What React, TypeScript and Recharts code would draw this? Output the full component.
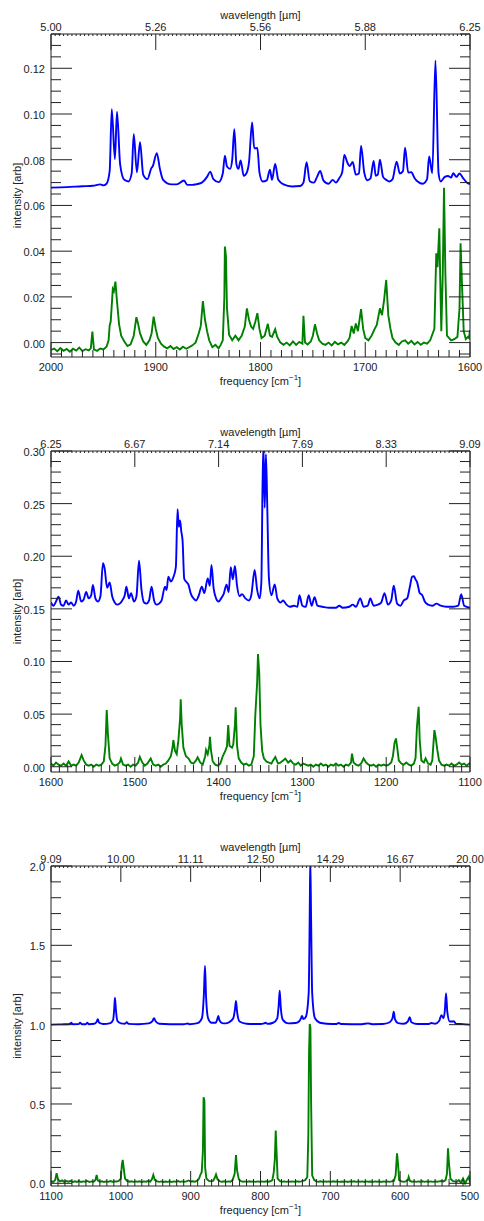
import { Line, LineChart, XAxis, YAxis } from 'recharts';

type Pt = [number, number];

const FONT = '"Liberation Sans", Arial, Helvetica, sans-serif';
const INK = '#222';
const BLUE = '#0000ff';
const GREEN = '#008000';

// ---- panel 1: 2000-1600 cm-1 ----
const p1FreqTicks = [2000, 1900, 1800, 1700, 1600];
const p1WaveLabels = ['5.00', '5.26', '5.56', '5.88', '6.25'];
const p1YLabels = [0, 0.02, 0.04, 0.06, 0.08, 0.1, 0.12];

const p1Blue: Pt[] = [
  [2000, 0.0678], [1985, 0.068], [1970, 0.0684], [1960, 0.0686], [1953, 0.0692], [1950, 0.0688],
  [1947, 0.0695], [1944, 0.075], [1942, 0.1021], [1939, 0.0803], [1937, 0.101], [1934, 0.078],
  [1930, 0.0712], [1926, 0.0705], [1923, 0.074], [1921, 0.0912], [1918, 0.0745], [1915, 0.0877],
  [1912, 0.0735], [1908, 0.0715], [1904, 0.0765], [1903, 0.077], [1899, 0.0829], [1896, 0.0759],
  [1893, 0.0712], [1885, 0.0692], [1880, 0.0692], [1873, 0.0709], [1870, 0.069], [1865, 0.069],
  [1862, 0.0692], [1856, 0.07], [1851, 0.0725], [1848, 0.0748], [1845, 0.0715], [1840, 0.0702],
  [1836, 0.074], [1834, 0.0818], [1832, 0.077], [1829, 0.076], [1827, 0.08], [1825, 0.0934],
  [1823, 0.078], [1821, 0.076], [1819, 0.0797], [1816, 0.073], [1813, 0.0745], [1811, 0.0788],
  [1808, 0.0963], [1806, 0.085], [1803, 0.0851], [1801, 0.0745], [1798, 0.0705], [1794, 0.071],
  [1791, 0.0756], [1789, 0.0712], [1786, 0.0781], [1783, 0.0712], [1778, 0.0692], [1770, 0.0683],
  [1762, 0.0685], [1759, 0.07], [1756, 0.0789], [1753, 0.0706], [1749, 0.07], [1746, 0.0725],
  [1743, 0.0751], [1740, 0.071], [1735, 0.0695], [1731, 0.0712], [1728, 0.07], [1725, 0.0718],
  [1722, 0.0745], [1720, 0.0821], [1717, 0.0787], [1715, 0.0772], [1712, 0.079], [1709, 0.0735],
  [1706, 0.074], [1704, 0.0861], [1701, 0.0745], [1698, 0.071], [1695, 0.0718], [1692, 0.0795],
  [1690, 0.073], [1688, 0.0735], [1686, 0.08], [1683, 0.0725], [1680, 0.0712], [1677, 0.0705],
  [1674, 0.0714], [1670, 0.0791], [1667, 0.074], [1664, 0.075], [1662, 0.0853], [1659, 0.0744],
  [1656, 0.0745], [1653, 0.072], [1650, 0.0705], [1645, 0.0695], [1641, 0.0715], [1639, 0.0814],
  [1636, 0.0741], [1633, 0.1234], [1630, 0.074], [1628, 0.0705], [1624, 0.0725], [1621, 0.0729],
  [1618, 0.0722], [1616, 0.0741], [1613, 0.0725], [1610, 0.074], [1607, 0.0722], [1603, 0.07],
  [1600, 0.0693],
];

const p1Green: Pt[] = [
  [2000, -0.0032], [1997, -0.0026], [1994, -0.0038], [1991, -0.0024], [1988, -0.0036], [1985, -0.0028],
  [1982, -0.004], [1979, -0.0027], [1976, -0.0035], [1973, -0.0022], [1970, -0.0037], [1967, -0.0029],
  [1964, -0.0034], [1962, -0.0025], [1960.5, 0.0048], [1959, -0.003], [1956, -0.0036], [1953, -0.0026],
  [1950, -0.003], [1947, -0.0018], [1945, 0.001], [1944, 0.0075], [1943, 0.0092], [1941, 0.0234],
  [1940, 0.0225], [1938.5, 0.0267], [1937, 0.018], [1935, 0.008], [1933, 0.003], [1930, 0.0005],
  [1927, -0.0015], [1924, -0.0008], [1921, 0.003], [1920, 0.0062], [1918.5, 0.0111], [1917, 0.0085],
  [1915, 0.004], [1912, 0.0005], [1909, -0.001], [1906, 0.001], [1904, 0.004], [1902, 0.0114],
  [1900, 0.006], [1898, 0.002], [1895, -0.0005], [1892, -0.0018], [1889, -0.0025], [1886, -0.0015],
  [1883, -0.0028], [1880, -0.002], [1877, -0.003], [1874, -0.0018], [1871, -0.0027], [1868, -0.002],
  [1865, -0.0012], [1862, 0], [1859, 0.004], [1857, 0.0073], [1855, 0.0182], [1853, 0.01],
  [1851, 0.005], [1849, 0.001], [1846, -0.002], [1843, -0.001], [1840, -0.0025], [1838, -0.001],
  [1836, 0.001], [1834.5, 0.02], [1834, 0.042], [1833, 0.038], [1832, 0.015], [1830, 0.0035],
  [1827, 0.001], [1824, 0.003], [1821, 0.001], [1818, 0.003], [1815, 0.007], [1813, 0.015],
  [1811, 0.01], [1809, 0.007], [1807, 0.006], [1805, 0.009], [1803, 0.0129], [1801, 0.006],
  [1799, 0.002], [1796, 0.003], [1793, 0.0082], [1791, 0.003], [1789, 0.0025], [1786, 0.0059],
  [1784, 0.0025], [1781, 0], [1778, -0.001], [1775, 0], [1772, -0.0012], [1769, 0.0005],
  [1766, -0.001], [1763, 0.0003], [1760, -0.0005], [1759, 0.0117], [1757.5, 0], [1755, -0.0008],
  [1752, 0.0005], [1750, 0.003], [1748, 0.008], [1746, 0.004], [1744, 0.001], [1741, -0.0005],
  [1738, -0.001], [1735, 0], [1732, -0.0012], [1729, 0.0003], [1726, -0.0008], [1723, 0],
  [1720, -0.001], [1717, 0.0005], [1715, 0.002], [1713, 0.0073], [1711, 0.004], [1709, 0.0084],
  [1707, 0.005], [1704, 0.0146], [1702, 0.006], [1700, 0.002], [1697, 0.001], [1694, 0.003],
  [1691, 0.006], [1689, 0.0077], [1686, 0.015], [1684, 0.012], [1682, 0.0187], [1680, 0.0274],
  [1678, 0.012], [1676, 0.0062], [1674, 0.002], [1671, 0], [1668, -0.001], [1665, 0.0005],
  [1662, 0.001], [1659, -0.0005], [1656, 0.0008], [1653, -0.0008], [1650, 0.0003], [1647, -0.001],
  [1644, 0], [1641, -0.0005], [1638, 0.001], [1634, 0.006], [1632.2, 0.0391], [1631, 0.033],
  [1629.3, 0.05], [1628.5, 0.03], [1627.4, 0.005], [1626, 0.03], [1624.8, 0.0677], [1623.5, 0.03],
  [1622, 0.003], [1618, 0.001], [1615, 0.0015], [1612, 0.0025], [1610, 0.015], [1609, 0.0435],
  [1608, 0.03], [1606, 0.005], [1604, 0.0015], [1602, 0.0025], [1601, 0.002], [1600, 0.0055],
];

// ---- panel 2: 1600-1100 cm-1 ----
const p2FreqTicks = [1600, 1500, 1400, 1300, 1200, 1100];
const p2WaveLabels = ['6.25', '6.67', '7.14', '7.69', '8.33', '9.09'];
const p2YLabels = [0, 0.05, 0.1, 0.15, 0.2, 0.25, 0.3];

const p2Blue: Pt[] = [
  [1600, 0.156], [1597, 0.153], [1594, 0.157], [1591, 0.1616], [1588, 0.154], [1585, 0.153],
  [1582, 0.158], [1579, 0.154], [1576, 0.156], [1573, 0.153], [1570, 0.157], [1567.5, 0.1673],
  [1564, 0.157], [1561, 0.159], [1558, 0.166], [1555, 0.16], [1552, 0.163], [1550, 0.1727],
  [1547, 0.16], [1544, 0.157], [1541, 0.162], [1538, 0.1933], [1536, 0.1885], [1533, 0.17],
  [1530, 0.175], [1527, 0.162], [1524, 0.156], [1521, 0.154], [1518, 0.155], [1515, 0.158],
  [1512, 0.163], [1510, 0.1711], [1507, 0.16], [1504.5, 0.165], [1501, 0.157], [1498, 0.162],
  [1495, 0.1958], [1492, 0.168], [1489, 0.156], [1486, 0.155], [1483, 0.158], [1480, 0.171],
  [1477, 0.158], [1474, 0.154], [1471, 0.155], [1468, 0.158], [1464, 0.171], [1462, 0.168],
  [1460, 0.1806], [1457, 0.176], [1454, 0.18], [1451, 0.19], [1449, 0.2447], [1447.5, 0.228],
  [1446, 0.234], [1444.5, 0.2234], [1443, 0.215], [1441, 0.1786], [1439, 0.176], [1436, 0.173],
  [1433, 0.164], [1430, 0.16], [1427, 0.158], [1424, 0.162], [1420, 0.171], [1417, 0.165],
  [1413, 0.179], [1410.5, 0.172], [1408.5, 0.1917], [1406, 0.17], [1403, 0.16], [1400, 0.157],
  [1397, 0.16], [1394, 0.164], [1390.5, 0.173], [1388, 0.166], [1385.5, 0.1896], [1383, 0.178],
  [1380.5, 0.1908], [1378, 0.172], [1375, 0.162], [1372, 0.164], [1368, 0.16], [1364, 0.158],
  [1361, 0.163], [1357, 0.187], [1354, 0.168], [1351, 0.16], [1349, 0.175], [1347.5, 0.27],
  [1346.5, 0.305], [1345, 0.246], [1343.5, 0.297], [1342, 0.25], [1340, 0.18], [1337, 0.163],
  [1333, 0.1733], [1330, 0.16], [1326, 0.156], [1323, 0.158], [1319, 0.154], [1315, 0.152],
  [1310, 0.153], [1306, 0.152], [1303.5, 0.163], [1300, 0.153], [1296, 0.152], [1292.5, 0.163],
  [1289, 0.153], [1285.5, 0.161], [1282, 0.153], [1276, 0.152], [1268, 0.151], [1260, 0.151],
  [1256, 0.153], [1252, 0.151], [1244, 0.152], [1240, 0.154], [1236, 0.152], [1231, 0.16],
  [1227, 0.152], [1222, 0.153], [1219, 0.16], [1215, 0.153], [1210, 0.154], [1206, 0.156],
  [1202, 0.165], [1198, 0.154], [1194, 0.158], [1191, 0.172], [1187, 0.155], [1183, 0.153],
  [1179, 0.158], [1175, 0.16], [1172, 0.17], [1169, 0.1806], [1167, 0.181], [1165, 0.178],
  [1163, 0.175], [1160, 0.165], [1157, 0.163], [1154, 0.157], [1150, 0.154], [1145, 0.153],
  [1140, 0.155], [1135, 0.153], [1128, 0.152], [1120, 0.152], [1114, 0.153], [1110.5, 0.164],
  [1107, 0.153], [1100, 0.151],
];

const p2Green: Pt[] = [
  [1600, 0.003], [1597, 0.001], [1594, 0.004], [1591, 0.002], [1588, 0.001], [1585, 0.003],
  [1582, 0.001], [1579, 0.005], [1576, 0.001], [1573, 0.002], [1570, 0.001], [1567, 0.004],
  [1565, 0.008], [1563.5, 0.011], [1561, 0.006], [1558, 0.002], [1555, 0.001], [1552, 0.002],
  [1549, 0], [1546, 0.002], [1543, 0.001], [1540, 0.002], [1537, 0.005], [1535, 0.02],
  [1533.5, 0.0539], [1532, 0.03], [1530, 0.008], [1527, 0.003], [1524, 0.001], [1521, 0.002],
  [1518, 0.004], [1516.5, 0.0078], [1514, 0.002], [1511, 0.001], [1508, 0.002], [1505, 0],
  [1502, 0.002], [1499, 0.001], [1496, 0.004], [1494, 0.0093], [1491, 0.004], [1488, 0.001],
  [1485, 0.003], [1481, 0.0078], [1478, 0.002], [1475, 0.001], [1472, 0.002], [1469, 0],
  [1466, 0.002], [1463, 0.003], [1460, 0.006], [1457, 0.01], [1455, 0.018], [1454, 0.0254],
  [1452, 0.015], [1450, 0.012], [1448, 0.025], [1446, 0.045], [1445.2, 0.064], [1444, 0.04],
  [1442, 0.018], [1439, 0.01], [1436, 0.008], [1433, 0.004], [1430, 0.003], [1427, 0.006],
  [1425, 0.009], [1422, 0.004], [1419, 0.002], [1416, 0.01], [1415, 0.016], [1413, 0.012],
  [1411, 0.02], [1410.3, 0.0285], [1409, 0.015], [1407, 0.005], [1404, 0.002], [1401, 0.001],
  [1398, 0.003], [1395, 0.01], [1392, 0.015], [1390, 0.0193], [1388.5, 0.0396], [1387, 0.02],
  [1384, 0.018], [1382.5, 0.021], [1380.5, 0.04], [1379.6, 0.0565], [1378, 0.02], [1376, 0.008],
  [1373, 0.004], [1370, 0.002], [1367, 0.003], [1364, 0.001], [1361, 0.002], [1358, 0.01],
  [1356.2, 0.049], [1354, 0.08], [1353, 0.1071], [1351.5, 0.089], [1350, 0.04], [1348, 0.015],
  [1346, 0.008], [1343, 0.005], [1340, 0.004], [1337, 0.003], [1335, 0.006], [1332.3, 0.0093],
  [1329, 0.003], [1326, 0.004], [1323, 0.006], [1320.4, 0.0078], [1317, 0.004], [1314, 0.006],
  [1311, 0.003], [1308, 0.002], [1305, 0.004], [1302, 0.001], [1299, 0.003], [1296, 0.002],
  [1293, 0.001], [1290, 0.002], [1287, 0], [1284, 0.002], [1281, 0.001], [1278, 0.003],
  [1275, 0.001], [1272, 0.002], [1269, 0], [1266, 0.002], [1263, 0.001], [1260, 0.003],
  [1257, 0.001], [1254, 0.002], [1251, 0], [1248, 0.002], [1245, 0.001], [1242, 0.004],
  [1240.8, 0.0124], [1239, 0.004], [1236, 0.002], [1233, 0.001], [1230, 0.003], [1227, 0.0078],
  [1224, 0.004], [1221, 0.002], [1218, 0.001], [1215, 0.002], [1212, 0], [1209, 0.002],
  [1206, 0.001], [1203, 0.002], [1200, 0.001], [1197, 0.002], [1194, 0.004], [1192, 0.01],
  [1190, 0.0228], [1188.3, 0.0269], [1186.5, 0.016], [1185, 0.006], [1182, 0.003], [1179, 0.002],
  [1176, 0.004], [1173, 0.002], [1170, 0.001], [1167, 0.003], [1165, 0.008], [1163.3, 0.038],
  [1161.3, 0.057], [1160, 0.025], [1158, 0.006], [1155, 0.004], [1153, 0.008], [1150, 0.003],
  [1147, 0.002], [1145, 0.006], [1142.5, 0.0348], [1141, 0.028], [1139, 0.016], [1137, 0.006],
  [1134, 0.002], [1131, 0.001], [1128, 0.002], [1125, 0.001], [1122, 0.003], [1119, 0.001],
  [1116, 0.002], [1113, 0.004], [1110, 0.002], [1107, 0.003], [1104, 0.001], [1101, 0.003],
  [1100, 0.002],
];

// ---- panel 3: 1100-500 cm-1 ----
const p3FreqTicks = [1100, 1000, 900, 800, 700, 600, 500];
const p3WaveLabels = ['9.09', '10.00', '11.11', '12.50', '14.29', '16.67', '20.00'];
const p3YLabels = [0, 0.5, 1, 1.5, 2];

const p3Blue: Pt[] = [
  [1100, 1.0], [1085, 1.002], [1075, 1.003], [1072, 1.008], [1071, 1.012], [1069, 1.003],
  [1060, 1.004], [1058.5, 1.012], [1056, 1.003], [1050, 1.003], [1048, 1.012], [1046, 1.003],
  [1038, 1.006], [1035, 1.015], [1033, 1.034], [1031, 1.012], [1025, 1.004], [1015, 1.01],
  [1011, 1.03], [1009.5, 1.1], [1008.4, 1.17], [1007, 1.09], [1005, 1.025], [1000, 1.008],
  [994, 1.006], [991.5, 1.015], [989, 1.005], [975, 1.003], [960, 1.008], [955, 1.02],
  [952.5, 1.04], [950, 1.02], [945, 1.006], [930, 1.003], [910, 1.003], [904, 1.007],
  [902, 1.003], [890, 1.01], [884, 1.04], [881, 1.2], [879.5, 1.37], [878, 1.18],
  [875, 1.04], [870, 1.012], [864, 1.012], [861.5, 1.04], [860.3, 1.055], [859, 1.03],
  [855, 1.01], [850, 1.008], [845, 1.015], [839, 1.04], [836.5, 1.1], [835.1, 1.149],
  [833.5, 1.08], [830, 1.02], [820, 1.006], [810, 1.004], [800, 1.004], [795, 1.008],
  [793, 1.012], [790, 1.005], [782, 1.012], [776, 1.04], [774, 1.12], [772.5, 1.214],
  [771, 1.11], [768, 1.03], [760, 1.008], [750, 1.01], [745, 1.02], [742, 1.04],
  [740.6, 1.055], [738.5, 1.035], [735, 1.05], [731, 1.2], [729.5, 1.7], [728.7, 2.05],
  [727.5, 1.65], [726, 1.2], [722, 1.04], [715, 1.012], [705, 1.006], [692, 1.004],
  [688, 1.01], [684, 1.004], [670, 1.003], [655, 1.003], [646, 1.008], [640, 1.003],
  [625, 1.004], [615, 1.015], [611, 1.04], [609.2, 1.082], [607.5, 1.035], [603, 1.01],
  [595, 1.006], [589, 1.02], [586.3, 1.047], [584, 1.015], [575, 1.004], [560, 1.004],
  [555.4, 1.01], [550, 1.006], [544, 1.025], [541, 1.06], [538, 1.04], [536, 1.09],
  [534.3, 1.198], [532.5, 1.08], [529, 1.02], [525, 1.02], [523.3, 1.022], [520, 1.005],
  [510, 1.003], [500, 1.0],
];

const p3Green: Pt[] = [
  [1100, 0.015], [1097, 0.008], [1094, 0.02], [1092, 0.063], [1090, 0.025], [1087, 0.012],
  [1084, 0.018], [1081, 0.009], [1078, 0.015], [1075, 0.01], [1072, 0.016], [1069, 0.008],
  [1066, 0.013], [1063, 0.009], [1060, 0.014], [1057, 0.008], [1054, 0.012], [1051, 0.01],
  [1048, 0.015], [1045, 0.008], [1042, 0.012], [1039, 0.01], [1036.5, 0.02], [1034.6, 0.052],
  [1033, 0.018], [1030, 0.01], [1027, 0.013], [1024, 0.008], [1021, 0.012], [1018, 0.009],
  [1015, 0.014], [1012, 0.01], [1009, 0.012], [1006, 0.011], [1003, 0.015], [1000, 0.03],
  [998.5, 0.12], [997.3, 0.147], [996, 0.1], [994, 0.03], [991, 0.015], [988, 0.01],
  [985, 0.013], [982, 0.009], [979, 0.012], [976, 0.01], [973, 0.013], [970, 0.008],
  [967, 0.012], [964, 0.01], [961, 0.014], [958, 0.01], [955.5, 0.025], [953.5, 0.052],
  [951.5, 0.022], [948, 0.012], [945, 0.009], [942, 0.012], [939, 0.008], [936, 0.011],
  [933, 0.009], [930, 0.013], [927, 0.008], [924, 0.012], [921, 0.01], [918, 0.014],
  [915, 0.009], [912, 0.012], [909, 0.01], [906, 0.012], [903, 0.018], [900, 0.011],
  [897, 0.013], [894, 0.01], [891, 0.015], [888, 0.03], [885.5, 0.06], [884.2, 0.07],
  [882.5, 0.2], [881.5, 0.542], [880.3, 0.52], [879.3, 0.1], [877.5, 0.03], [874, 0.015],
  [871, 0.012], [868, 0.015], [865.5, 0.035], [863.7, 0.056], [861.5, 0.025], [858, 0.012],
  [855, 0.01], [852, 0.013], [849, 0.009], [846, 0.012], [843, 0.01], [840, 0.02],
  [837, 0.06], [835.1, 0.178], [833.5, 0.08], [831, 0.025], [828, 0.013], [825, 0.01],
  [822, 0.012], [819, 0.009], [816, 0.013], [813, 0.01], [810, 0.012], [807, 0.009],
  [804, 0.012], [801, 0.01], [798, 0.012], [795, 0.009], [792, 0.013], [789, 0.01],
  [786, 0.013], [783, 0.02], [781, 0.07], [779.5, 0.15], [778.2, 0.332], [777, 0.2],
  [775.5, 0.03], [772, 0.013], [769, 0.01], [766, 0.012], [763, 0.009], [760, 0.012],
  [757, 0.01], [754, 0.012], [751, 0.009], [748, 0.013], [745, 0.01], [742, 0.012],
  [739, 0.015], [736, 0.02], [733, 0.04], [731.5, 0.3], [730.5, 0.82], [729.5, 1.004],
  [728.5, 0.98], [727.5, 0.5], [726, 0.05], [723, 0.02], [720, 0.012], [717, 0.01],
  [714, 0.013], [711, 0.009], [708, 0.012], [705, 0.01], [702, 0.012], [699, 0.009],
  [696, 0.013], [693, 0.01], [690, 0.012], [687, 0.009], [684, 0.011], [681, 0.01],
  [678, 0.012], [675, 0.008], [672, 0.012], [669, 0.01], [666, 0.013], [663, 0.009],
  [660, 0.012], [657, 0.01], [654, 0.012], [651, 0.008], [648, 0.012], [645, 0.01],
  [642, 0.011], [639, 0.009], [636, 0.012], [633, 0.01], [630, 0.012], [627, 0.008],
  [624, 0.012], [621, 0.01], [618, 0.012], [615, 0.009], [612, 0.012], [609, 0.015],
  [606.5, 0.05], [604.5, 0.189], [603, 0.12], [601.5, 0.02], [598, 0.012], [595, 0.01],
  [592, 0.012], [589, 0.02], [587.8, 0.04], [586, 0.015], [583, 0.01], [580, 0.012],
  [577, 0.009], [574, 0.012], [571, 0.01], [568, 0.013], [565, 0.009], [562, 0.012],
  [559, 0.01], [556, 0.012], [553, 0.009], [550, 0.012], [547, 0.01], [544, 0.012],
  [541, 0.014], [538, 0.012], [535, 0.02], [533, 0.06], [531.5, 0.221], [530, 0.12],
  [528, 0.03], [525, 0.015], [522, 0.012], [519, 0.01], [516, 0.02], [513, 0.005],
  [510, 0.03], [507, 0], [504, 0.025], [502, 0.04], [500, 0.01],
];

// evenly spaced tick positions (axis decoration only)
function steps(from: number, to: number, step: number): number[] {
  const out: number[] = [];
  const n = Math.round((to - from) / step);
  for (let i = 0; i <= n; i++) out.push(Math.round((from + i * step) * 1e6) / 1e6);
  return out;
}

const near = (list: number[], v: number) => list.some((t) => Math.abs(t - v) < 1e-6);
const toRows = (pts: Pt[]) => pts.map(([f, v]) => ({ f, v }));

const textProps = { fontSize: 11, fontFamily: FONT, fill: INK };

type PanelProps = {
  top: number;
  marginTop: number;
  marginBottom: number;
  freq: [number, number];
  freqTicks: number[];
  waveLabels: string[];
  topMinorStep: number;
  yDomain: [number, number];
  yLabels: number[];
  yMinor: [number, number, number];
  yDigits: number;
  blue: Pt[];
  green: Pt[];
};

function Panel(p: PanelProps) {
  const [lo, hi] = p.freq;
  const bottomTicks = steps(lo, hi, 10);
  const topTicks = Array.from(new Set([...p.freqTicks, ...steps(lo, hi, p.topMinorStep)]));
  const yTicks = steps(p.yMinor[0], p.yMinor[1], p.yMinor[2]);

  const bottomTick = (t: any) => {
    const { x, y, payload } = t;
    const major = near(p.freqTicks, payload.value);
    return (
      <g>
        <line x1={x} x2={x} y1={y} y2={y - (major ? 15 : 7)} stroke={INK} />
        {major && (
          <text x={x} y={y + 14} textAnchor="middle" {...textProps}>
            {payload.value}
          </text>
        )}
      </g>
    );
  };

  const topTick = (t: any) => {
    const { x, y, payload } = t;
    const idx = p.freqTicks.findIndex((f) => Math.abs(f - payload.value) < 1e-6);
    const major = idx >= 0;
    return (
      <g>
        <line x1={x} x2={x} y1={y} y2={y + (major ? 16 : 2)} stroke={INK} />
        {major && (
          <text x={x} y={y - 3} textAnchor="middle" {...textProps}>
            {p.waveLabels[idx]}
          </text>
        )}
      </g>
    );
  };

  const leftTick = (t: any) => {
    const { x, y, payload } = t;
    const major = near(p.yLabels, payload.value);
    return (
      <g>
        <line x1={x} x2={x + (major ? 21 : 10)} y1={y} y2={y} stroke={INK} />
        {major && (
          <text x={x - 6} y={y + 5} textAnchor="end" {...textProps}>
            {Number(payload.value).toFixed(p.yDigits)}
          </text>
        )}
      </g>
    );
  };

  const rightTick = (t: any) => {
    const { x, y, payload } = t;
    const major = near(p.yLabels, payload.value);
    return <line x1={x} x2={x - (major ? 21 : 10)} y1={y} y2={y} stroke={INK} />;
  };

  const freqTitle = (l: any) => {
    const vb = l.viewBox;
    return (
      <text x={vb.x + vb.width / 2} y={vb.y + 28} textAnchor="middle" {...textProps}>
        frequency [cm
        <tspan dy={-5} fontSize={8}>
          −1
        </tspan>
        <tspan dy={5}>]</tspan>
      </text>
    );
  };

  const waveTitle = (l: any) => {
    const vb = l.viewBox;
    return (
      <text x={vb.x + vb.width / 2} y={vb.y + vb.height - 15} textAnchor="middle" {...textProps}>
        wavelength [µm]
      </text>
    );
  };

  const yTitle = (l: any) => {
    const vb = l.viewBox;
    const cx = vb.x + vb.width - 30;
    const cy = vb.y + vb.height / 2;
    return (
      <text x={cx} y={cy} textAnchor="middle" transform={`rotate(-90 ${cx} ${cy})`} {...textProps}>
        intensity [arb]
      </text>
    );
  };

  return (
    <div style={{ position: 'absolute', left: 0, top: p.top }}>
      <LineChart
        width={484}
        height={410}
        margin={{ top: p.marginTop, right: 13, bottom: p.marginBottom, left: 11 }}
      >
        <XAxis
          xAxisId="b"
          type="number"
          dataKey="f"
          domain={[lo, hi]}
          reversed
          allowDataOverflow
          ticks={bottomTicks}
          interval={0}
          tick={bottomTick}
          tickLine={false}
          tickSize={0}
          tickMargin={0}
          axisLine={{ stroke: INK }}
          height={20}
          label={freqTitle}
        />
        <XAxis
          xAxisId="t"
          orientation="top"
          type="number"
          dataKey="f"
          domain={[lo, hi]}
          reversed
          allowDataOverflow
          ticks={topTicks}
          interval={0}
          tick={topTick}
          tickLine={false}
          tickSize={0}
          tickMargin={0}
          axisLine={{ stroke: INK }}
          height={20}
          label={waveTitle}
        />
        <YAxis
          yAxisId="l"
          type="number"
          domain={p.yDomain}
          allowDataOverflow
          ticks={yTicks}
          interval={0}
          tick={leftTick}
          tickLine={false}
          tickSize={0}
          tickMargin={0}
          axisLine={{ stroke: INK }}
          width={40}
          label={yTitle}
        />
        <YAxis
          yAxisId="r"
          orientation="right"
          type="number"
          domain={p.yDomain}
          allowDataOverflow
          ticks={yTicks}
          interval={0}
          tick={rightTick}
          tickLine={false}
          tickSize={0}
          tickMargin={0}
          axisLine={{ stroke: INK }}
          width={1}
        />
        <Line
          xAxisId="b"
          yAxisId="l"
          data={toRows(p.blue)}
          dataKey="v"
          type="monotone"
          stroke={BLUE}
          strokeWidth={1.9}
          dot={false}
          isAnimationActive={false}
        />
        <Line
          xAxisId="b"
          yAxisId="l"
          data={toRows(p.green)}
          dataKey="v"
          type="linear"
          stroke={GREEN}
          strokeWidth={1.9}
          dot={false}
          isAnimationActive={false}
        />
      </LineChart>
    </div>
  );
}

export default function App() {
  return (
    <div style={{ position: 'absolute', left: 0, top: 0, width: 484, height: 1221, background: '#fff' }}>
      <Panel
        top={0}
        marginTop={14}
        marginBottom={33}
        freq={[1600, 2000]}
        freqTicks={p1FreqTicks}
        waveLabels={p1WaveLabels}
        topMinorStep={4}
        yDomain={[-0.0063, 0.135]}
        yLabels={p1YLabels}
        yMinor={[-0.005, 0.135, 0.005]}
        yDigits={2}
        blue={p1Blue}
        green={p1Green}
      />
      <Panel
        top={410}
        marginTop={21}
        marginBottom={28}
        freq={[1100, 1600]}
        freqTicks={p2FreqTicks}
        waveLabels={p2WaveLabels}
        topMinorStep={5}
        yDomain={[-0.005, 0.3]}
        yLabels={p2YLabels}
        yMinor={[0, 0.3, 0.01]}
        yDigits={2}
        blue={p2Blue}
        green={p2Green}
      />
      <Panel
        top={820}
        marginTop={26}
        marginBottom={24}
        freq={[500, 1100]}
        freqTicks={p3FreqTicks}
        waveLabels={p3WaveLabels}
        topMinorStep={6}
        yDomain={[-0.017, 2.0]}
        yLabels={p3YLabels}
        yMinor={[0, 2, 0.1]}
        yDigits={1}
        blue={p3Blue}
        green={p3Green}
      />
    </div>
  );
}
